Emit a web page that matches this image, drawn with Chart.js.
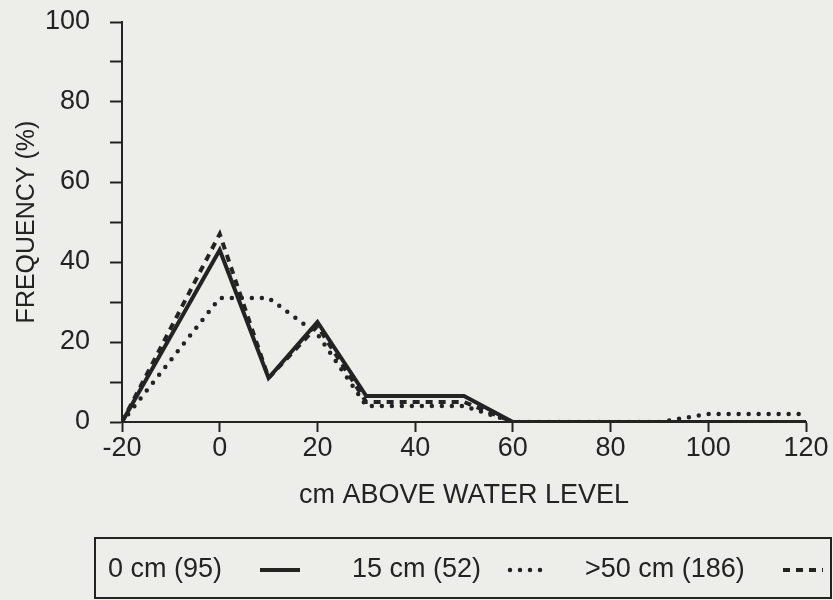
<!DOCTYPE html>
<html>
<head>
<meta charset="utf-8">
<script src="https://cdn.jsdelivr.net/npm/chart.js@4"></script>
<style>
  body { margin: 0; background: #ededea; }
  #wrap { width: 833px; height: 600px; }
</style>
</head>
<body>
<div id="wrap"><canvas id="myChart" width="833" height="600"></canvas></div>
<script>
const heights = [-20, 0, 10, 20, 30, 40, 50, 60, 70, 80, 90, 100, 110, 120];
const freq0cm = [0, 43, 11, 25, 6.5, 6.5, 6.5, 0, 0, 0, 0, 0, 0, 0];
const freq15cm = [0, 31, 31, 22, 4, 4, 4, 0, 0, 0, 0, 2, 2, 2];
const freq50cm = [0, 47, 11, 24, 5, 5, 5, 0, 0, 0, 0, 0, 0, 0];
const seriesLabels = ['0 cm (95)', '15 cm (52)', '>50 cm (186)'];

const ink = '#232323';
const fontFamily = '"Liberation Sans", Arial, Helvetica, sans-serif';

const toPoints = vals => heights.map((h, i) => ({ x: h, y: vals[i] }));

// legend box under the chart, text first then the line sample
const boxLegend = {
  id: 'boxLegend',
  afterDraw(chart) {
    const c = chart.ctx;
    const textX = [108, 352, 585];
    const sampleX = [260, 510, 783];
    const midY = 570;
    c.save();
    c.strokeStyle = ink;
    c.lineWidth = 2;
    c.strokeRect(95, 538, 736, 60);
    c.font = '27px ' + fontFamily;
    c.fillStyle = ink;
    c.textBaseline = 'middle';
    chart.data.datasets.forEach((ds, i) => {
      c.fillText(ds.label, textX[i], midY);
      c.beginPath();
      c.setLineDash(ds.borderDash || []);
      c.lineCap = ds.borderCapStyle || 'butt';
      c.lineWidth = ds.borderWidth;
      c.moveTo(sampleX[i], midY);
      c.lineTo(sampleX[i] + 40, midY);
      c.stroke();
    });
    c.restore();
  }
};

new Chart(document.getElementById('myChart'), {
  type: 'line',
  data: {
    datasets: [
      {
        label: seriesLabels[0],
        data: toPoints(freq0cm),
        borderColor: ink,
        borderWidth: 4,
        order: 0
      },
      {
        label: seriesLabels[1],
        data: toPoints(freq15cm),
        borderColor: ink,
        borderWidth: 4.5,
        borderDash: [0, 10],
        borderCapStyle: 'round',
        order: 2
      },
      {
        label: seriesLabels[2],
        data: toPoints(freq50cm),
        borderColor: ink,
        borderWidth: 4,
        borderDash: [7, 6],
        order: 1
      }
    ]
  },
  options: {
    responsive: false,
    animation: false,
    events: [],
    layout: { padding: { top: 22, right: 27, bottom: 88, left: 0 } },
    elements: {
      point: { radius: 0 },
      line: { tension: 0, fill: false }
    },
    plugins: {
      legend: { display: false },
      tooltip: { enabled: false }
    },
    scales: {
      x: {
        type: 'linear',
        min: -20,
        max: 120,
        afterFit: s => {
          s.height = 90;
          s.paddingLeft = 0;
          s.paddingRight = 0;
        },
        ticks: {
          stepSize: 20,
          color: ink,
          padding: 0,
          font: { size: 27, family: fontFamily },
          maxRotation: 0
        },
        grid: {
          drawOnChartArea: false,
          tickLength: 10,
          tickWidth: 2,
          tickColor: ink
        },
        border: { color: ink, width: 2 },
        title: {
          display: true,
          text: 'cm ABOVE WATER LEVEL',
          color: ink,
          font: { size: 27, family: fontFamily },
          padding: { top: 4, bottom: 0 }
        }
      },
      y: {
        min: 0,
        max: 100,
        afterFit: s => {
          s.width = 122;
          s.paddingTop = 0;
          s.paddingBottom = 0;
        },
        ticks: {
          stepSize: 10,
          color: ink,
          padding: 20,
          font: { size: 27, family: fontFamily },
          callback: v => (v % 20 === 0 ? v : '')
        },
        grid: {
          drawOnChartArea: false,
          tickLength: 12,
          tickWidth: 2,
          tickColor: ink
        },
        border: { color: ink, width: 2 },
        title: {
          display: true,
          text: 'FREQUENCY (%)',
          color: ink,
          font: { size: 25, family: fontFamily },
          padding: { top: 12, bottom: 0 }
        }
      }
    }
  },
  plugins: [boxLegend]
});
</script>
</body>
</html>
